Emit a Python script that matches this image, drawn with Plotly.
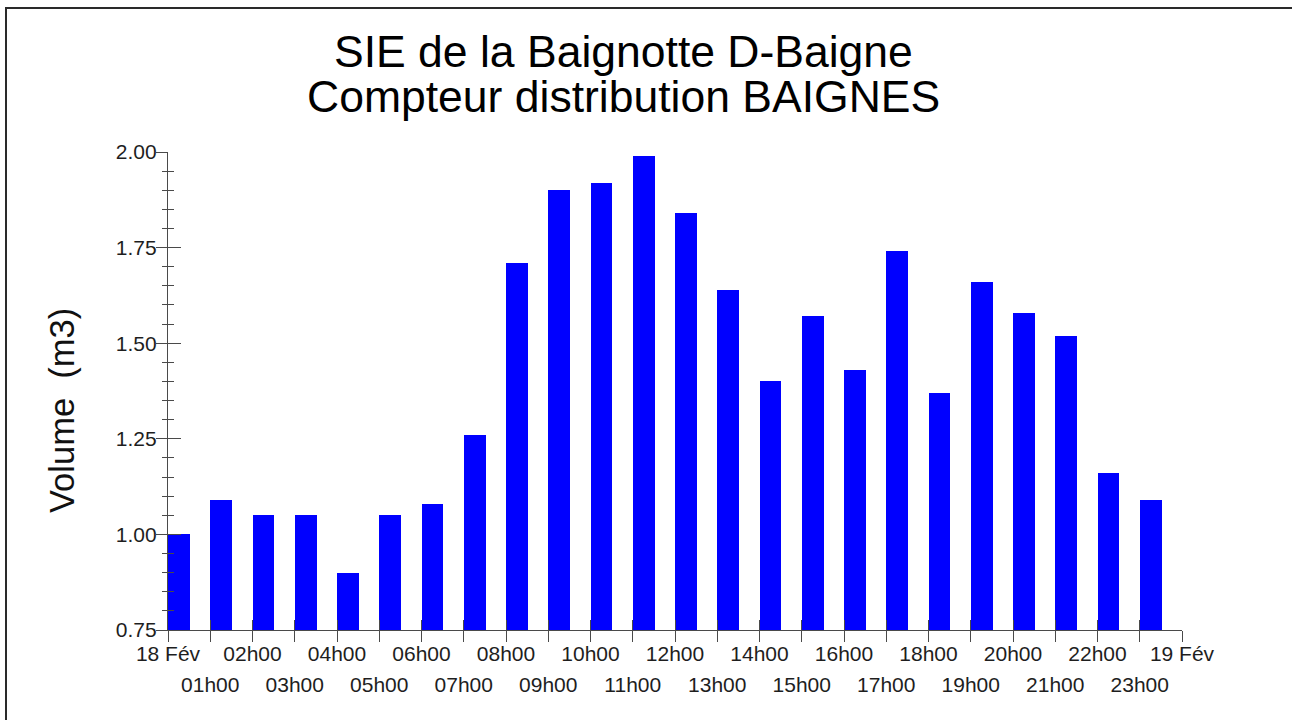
import plotly.graph_objects as go

# ---- data ----
hours = list(range(24))
volumes = [1.00, 1.09, 1.05, 1.05, 0.90, 1.05, 1.08, 1.26, 1.71, 1.90, 1.92, 1.99,
           1.84, 1.64, 1.40, 1.57, 1.43, 1.74, 1.37, 1.66, 1.58, 1.52, 1.16, 1.09]
tick_positions = list(range(25))
tick_labels = ["18 Fév"] + [f"{h:02d}h00" for h in range(1, 24)] + ["19 Fév"]
title_lines = ["SIE de la Baignotte D-Baigne", "Compteur distribution BAIGNES"]
y_title = "Volume\u00a0 (m3)"

even_text = [t if i % 2 == 0 else "" for i, t in enumerate(tick_labels)]
odd_text = [t if i % 2 == 1 else "" for i, t in enumerate(tick_labels)]

W, H = 1292, 720
L, R, T, B = 168, 110, 152, 90
pw, ph = W - L - R, H - T - B

def px_x(px):
    return (px - L) / pw

def px_y(py):
    return (H - B - py) / ph

FONT = "Arial, 'Liberation Sans', sans-serif"
AX = "#4a4a4a"
TXT = "#1e1e1e"

fig = go.Figure()
fig.add_trace(go.Bar(x=hours, y=volumes, width=0.52, offset=0,
                     marker=dict(color="#0000ff", line=dict(width=0)),
                     hoverinfo="x+y", showlegend=False))
fig.add_trace(go.Scatter(x=[None], y=[None], xaxis="x2", yaxis="y2",
                         showlegend=False, hoverinfo="skip"))

fig.update_layout(
    width=W, height=H,
    margin=dict(l=L, r=R, t=T, b=B, pad=0),
    paper_bgcolor="white", plot_bgcolor="white",
    font=dict(family=FONT, color=TXT, size=21),
    bargap=0,
    xaxis=dict(range=[0, 24], tickvals=tick_positions, ticktext=even_text,
               ticks="outside", ticklen=11, tickwidth=1.3, tickcolor=AX,
               showline=True, linecolor=AX, linewidth=1.3, showgrid=False,
               zeroline=False, tickfont=dict(size=21, color=TXT, family=FONT),
               ticklabelstandoff=-6, tickangle=0, fixedrange=True),
    xaxis2=dict(range=[0, 24], overlaying="x", anchor="y", side="bottom",
                tickvals=tick_positions, ticktext=odd_text,
                ticks="inside", ticklen=10, tickwidth=1.3, tickcolor=AX,
                showline=False, showgrid=False, zeroline=False,
                tickfont=dict(size=21, color=TXT, family=FONT),
                ticklabelstandoff=40, tickangle=0, fixedrange=True),
    yaxis=dict(range=[0.75, 2.0], tickvals=[0.75, 1.0, 1.25, 1.5, 1.75, 2.0],
               tickformat=".2f", ticks="outside", ticklen=11, tickwidth=1.3,
               tickcolor=AX, showline=True, linecolor=AX, linewidth=1.3,
               showgrid=False, zeroline=False, ticklabelstandoff=-5,
               minor=dict(dtick=0.05, ticks="outside", ticklen=5,
                          tickwidth=1.3, tickcolor=AX, showgrid=False),
               tickfont=dict(size=21, color=TXT, family=FONT), fixedrange=True),
    yaxis2=dict(range=[0.75, 2.0], overlaying="y", anchor="x", side="left",
                tickvals=[0.75, 1.0, 1.25, 1.5, 1.75, 2.0], showticklabels=False,
                ticks="inside", ticklen=13, tickwidth=1.3, tickcolor=AX,
                showline=False, showgrid=False, zeroline=False,
                minor=dict(dtick=0.05, ticks="inside", ticklen=6,
                           tickwidth=1.3, tickcolor=AX, showgrid=False),
                fixedrange=True),
)

annotations = [
    dict(text=title_lines[0], x=px_x(623), y=px_y(51), xref="paper", yref="paper",
         xanchor="center", yanchor="middle", showarrow=False,
         font=dict(size=44.5, color="#000000", family=FONT)),
    dict(text=title_lines[1], x=px_x(623), y=px_y(97), xref="paper", yref="paper",
         xanchor="center", yanchor="middle", showarrow=False,
         font=dict(size=44.5, color="#000000", family=FONT)),
    dict(text=y_title, x=px_x(62), y=px_y(411), xref="paper", yref="paper",
         xanchor="center", yanchor="middle", showarrow=False, textangle=-90,
         font=dict(size=34.5, color="#111111", family=FONT)),
]
fig.update_layout(annotations=annotations)

# outer frame (left and top edges)
fig.update_layout(shapes=[
    dict(type="line", xref="paper", yref="paper", x0=px_x(6), x1=px_x(6),
         y0=px_y(8), y1=px_y(H + 5), line=dict(color="#2a2a2a", width=2)),
    dict(type="line", xref="paper", yref="paper", x0=px_x(5), x1=px_x(W + 5),
         y0=px_y(8), y1=px_y(8), line=dict(color="#2a2a2a", width=2)),
])

fig.write_html("out.html", config={"displayModeBar": False},
               post_script="document.body.style.margin='0';document.body.style.overflow='hidden';")
